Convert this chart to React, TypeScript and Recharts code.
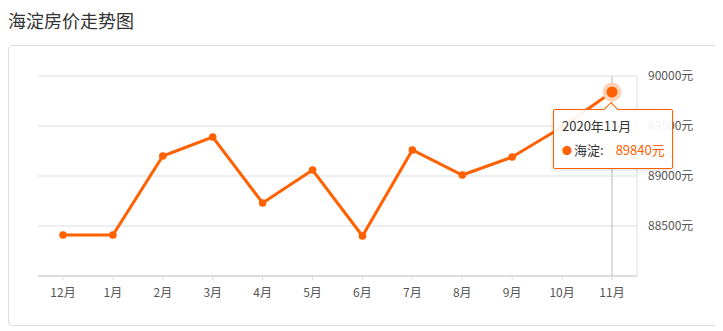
import React from 'react'
import { LineChart, Line, XAxis, YAxis, CartesianGrid, Tooltip } from 'recharts'

const months = ['12月', '1月', '2月', '3月', '4月', '5月', '6月', '7月', '8月', '9月', '10月', '11月']
const prices = [88410, 88410, 89200, 89390, 88730, 89060, 88400, 89260, 89010, 89190, 89490, 89840]
const yTicks = [88500, 89000, 89500, 90000]
const seriesName = '海淀'
const tooltipTitle = '2020年11月'

const ORANGE = '#ff6000'
const FONT = '"Noto Sans CJK SC", "Noto Sans", sans-serif'

const data = months.map((m, i) => ({ month: m, price: prices[i] }))

function PriceTooltip({ active, payload }: any) {
  if (!active || !payload || !payload.length) return null
  const v = payload[0].value
  return (
    <div style={{ position: 'relative', paddingTop: 7, fontFamily: FONT }}>
      <div
        style={{
          position: 'absolute',
          left: 53,
          top: 2,
          width: 9,
          height: 9,
          background: '#fff',
          borderLeft: `1px solid ${ORANGE}`,
          borderTop: `1px solid ${ORANGE}`,
          transform: 'rotate(45deg)',
          zIndex: 2,
        }}
      />
      <div
        style={{
          width: 110,
          height: 51,
          background: 'rgba(255,255,255,0.92)',
          border: `1px solid ${ORANGE}`,
          borderRadius: 2,
          boxShadow: '0 1px 4px rgba(0,0,0,0.15)',
          padding: '7px 0 0 8px',
          fontSize: 13,
          color: '#333',
          lineHeight: '18px',
        }}
      >
        <div>{tooltipTitle}</div>
        <div style={{ marginTop: 6, whiteSpace: 'nowrap' }}>
          <span style={{ color: ORANGE, fontSize: 10, marginRight: 2 }}>●</span>
          <span>{seriesName}:</span>
          <span style={{ color: ORANGE, marginLeft: 12 }}>{v}元</span>
        </div>
      </div>
    </div>
  )
}

function ActiveDot(props: any) {
  const { cx, cy } = props
  return (
    <g>
      <circle cx={cx} cy={cy} r={9.5} fill="#ffd3b8" />
      <circle cx={cx} cy={cy} r={5.5} fill={ORANGE} />
    </g>
  )
}

export default function App() {
  return (
    <div style={{ width: 715, overflow: 'hidden', fontFamily: FONT }}>
      <div style={{ fontSize: 18, color: '#333', lineHeight: '24px', height: 37 }}>
        海淀房价走势图
      </div>
      <div
        style={{
          position: 'relative',
          width: 730,
          height: 279,
          border: '1px solid #ddd',
          borderRadius: 4,
        }}
      >
        <LineChart
          width={714}
          height={278}
          data={data}
          margin={{ top: 30, left: 29, right: 8, bottom: 18 }}
        >
          <CartesianGrid vertical={false} stroke="#ddd" />
          <XAxis
            dataKey="month"
            height={30}
            padding={{ left: 25, right: 25 }}
            axisLine={{ stroke: '#ddd', strokeWidth: 2 }}
            tickLine={{ stroke: '#ddd' }}
            tickSize={4}
            tickMargin={8}
            tick={{ fill: '#555', fontSize: 12, fontFamily: FONT }}
          />
          <YAxis
            orientation="right"
            domain={[88000, 90000]}
            ticks={yTicks}
            width={78}
            axisLine={{ stroke: '#ddd' }}
            tickLine={false}
            tickMargin={5}
            tick={{ fill: '#555', fontSize: 12, fontFamily: FONT, textAnchor: 'start' }}
            tickFormatter={(v: number) => `${v}元`}
          />
          <Tooltip
            defaultIndex={11}
            active
            cursor={{ stroke: '#bbb', strokeWidth: 1 }}
            position={{ x: 544, y: 56 }}
            content={<PriceTooltip />}
            isAnimationActive={false}
            wrapperStyle={{ outline: 'none' }}
          />
          <Line
            type="linear"
            dataKey="price"
            name={seriesName}
            stroke={ORANGE}
            strokeWidth={3}
            dot={{ r: 3.8, fill: ORANGE, stroke: ORANGE, strokeWidth: 0 }}
            activeDot={(p: any) => <ActiveDot key="active" {...p} />}
            isAnimationActive={false}
          />
        </LineChart>
      </div>
    </div>
  )
}
